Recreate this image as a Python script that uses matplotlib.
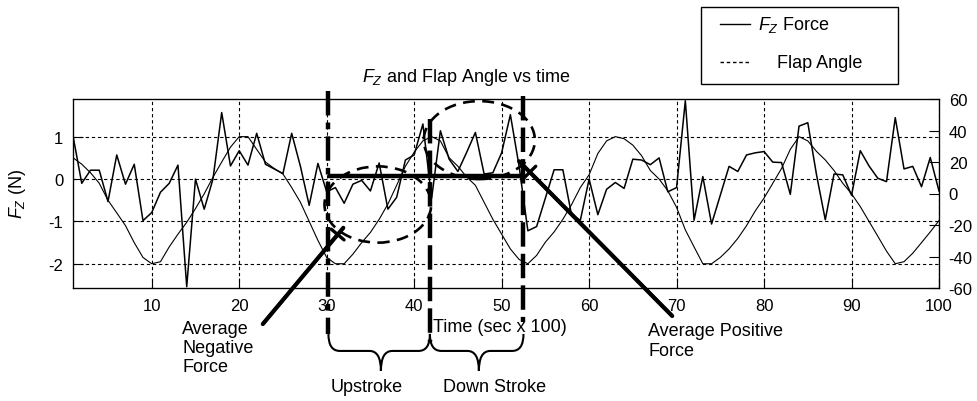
import numpy as np
import matplotlib
matplotlib.use("Agg")
import matplotlib.pyplot as plt
from matplotlib.patches import Ellipse, Rectangle, PathPatch
from matplotlib.path import Path
from matplotlib.lines import Line2D

# data
time = np.arange(1, 101)
fz_force = [1.02, -0.1, 0.21, 0.21, -0.53, 0.57, -0.12, 0.35, -0.98, -0.79,
            -0.31, -0.1, 0.33, -2.54, 0.0, -0.71, 0.0, 1.57, 0.31, 0.67,
            0.33, 1.08, 0.35, 0.24, 0.13, 1.08, 0.3, -0.62, 0.37, -0.3,
            -0.2, -0.57, -0.12, -0.03, -0.28, 0.38, -0.71, -0.43, 0.45, 0.57,
            1.3, -0.45, 1.14, 0.47, 0.18, 0.63, 1.1, 0.12, 0.15, 0.62,
            1.52, 0.3, -1.22, -1.12, -0.45, 0.22, 0.22, -0.85, -0.97, 0.0,
            -0.84, -0.24, -0.08, -0.22, 0.47, 0.45, 0.34, 0.5, -0.3, -0.2,
            1.85, -0.97, 0.06, -1.06, -0.38, 0.3, 0.18, 0.57, 0.62, 0.65,
            0.4, 0.39, -0.36, 1.25, 1.33, 0.1, -0.96, 0.12, 0.1, -0.38,
            0.67, 0.31, 0.02, -0.06, 1.45, 0.24, 0.3, -0.18, 0.51, -0.28]
flap_angle = [22.7, 18.6, 13.2, 6.5, -4.3, -12.3, -20.4, -31.2, -40.6, -44.6,
              -43.3, -33.9, -25.8, -18.3, -9.6, -0.2, 10.3, 20.0, 29.4, 36.1,
              36.1, 28.0, 20.0, 15.9, 12.4, 3.8, -5.6, -17.7, -29.8, -40.6,
              -44.6, -44.6, -38.5, -31.2, -24.7, -16.4, -6.7, 5.2, 17.3, 26.2,
              33.4, 36.1, 33.4, 22.7, 17.3, 10.5, 5.2, -5.6, -16.4, -25.8,
              -35.2, -41.9, -44.6, -39.3, -30.9, -24.4, -16.4, -7.0, 3.8, 11.9,
              25.4, 33.4, 36.1, 34.8, 30.7, 24.0, 14.6, 9.2, 1.7, -8.8,
              -23.1, -33.9, -44.6, -44.6, -40.6, -35.2, -28.5, -20.4, -11.0, -2.9,
              6.5, 15.9, 28.0, 36.1, 33.4, 26.7, 21.3, 14.6, 6.5, -0.2,
              -8.3, -17.7, -27.1, -36.6, -44.6, -43.3, -37.9, -31.2, -24.4, -17.2]
x_ticks = [10, 20, 30, 40, 50, 60, 70, 80, 90, 100]
fz_ticks = [-2, -1, 0, 1]
angle_ticks = [-60, -40, -20, 0, 20, 40, 60]
stroke_bounds = [30.2, 41.8, 52.5]
avg_force = 0.07

plt.rcParams['font.family'] = ['Liberation Sans', 'DejaVu Sans']
plt.rcParams['mathtext.fontset'] = 'custom'
plt.rcParams['mathtext.it'] = 'Liberation Sans:italic'
plt.rcParams['mathtext.rm'] = 'Liberation Sans'
plt.rcParams['axes.unicode_minus'] = False

W, H = 977, 402
def fx(px):
    return px / W
def fy(py):
    return 1 - py / H

fig = plt.figure(figsize=(9.77, 4.02), dpi=100)
ax = fig.add_axes([fx(73), fy(289), fx(939) - fx(73), fy(100) - fy(289)])
ax.plot(time, fz_force, color='black', lw=1.1)
ax.set_xlim(1, 100)
ax.set_ylim(-2.57, 1.89)
ax.set_xticks(x_ticks)
ax.set_yticks(fz_ticks)
ax.set_yticklabels([str(v) for v in fz_ticks])
ax.grid(True, color='black', lw=0.8, linestyle=(0, (3, 2.5)))
ax.tick_params(direction='in', length=7, labelsize=12, pad=7)
for s in ax.spines.values():
    s.set_linewidth(0.9)

ax2 = ax.twinx()
ax2.plot(time, flap_angle, color='black', lw=0.8)
ax2.set_ylim(-60, 60)
ax2.set_yticks(angle_ticks)
ax2.set_yticklabels([str(v) for v in angle_ticks])
ax2.tick_params(direction='in', length=7, labelsize=12, pad=7)

# annotations (drawn in the force axis coordinates)
xt = ax.get_xaxis_transform()
ax2.plot([stroke_bounds[0]] * 2, [1.042, -0.243], transform=xt, clip_on=False,
         color='black', lw=3.2, linestyle=(0, (5.5, 1.6, 1.5, 1.6)))
ax2.plot([stroke_bounds[1]] * 2, [0.894, -0.286], transform=xt, clip_on=False,
         color='black', lw=3.2, linestyle=(0, (5.5, 1.6)))
ax2.plot([stroke_bounds[2]] * 2, [1.016, -0.18], transform=xt, clip_on=False,
         color='black', lw=3.2, linestyle=(0, (5.5, 1.6)))
ax2.plot([stroke_bounds[0], stroke_bounds[2]], [avg_force, avg_force],
         transform=ax.transData, color='black', lw=3.2, solid_capstyle='butt')

for cx, cy, w, h in [(35.85, -0.6, 12.2, 1.8), (47.45, 0.92, 12.7, 1.84)]:
    ax2.add_patch(Ellipse((cx, cy), w, h, transform=ax.transData, fill=False,
                          ec='black', lw=1.9, linestyle=(0, (4.5, 2.8)), clip_on=False))

# pointer lines with a cross bar just before the tip
for tail, tip in [((22.7, -3.42), (31.9, -1.15)), ((69.5, -3.23), (52.0, 0.42))]:
    ax2.annotate('', xy=tip, xycoords=ax.transData, xytext=tail, textcoords=ax.transData,
                 arrowprops=dict(arrowstyle='-', lw=3.0, color='black', shrinkA=0, shrinkB=0),
                 annotation_clip=False)
    bar = (tail[0] + 0.93 * (tip[0] - tail[0]), tail[1] + 0.93 * (tip[1] - tail[1]))
    ax2.annotate('', xy=bar, xycoords=ax.transData, xytext=tail, textcoords=ax.transData,
                 arrowprops=dict(arrowstyle='-[, widthB=0.5, lengthB=0.0', lw=2.4,
                                 color='black', shrinkA=0, shrinkB=0, mutation_scale=12),
                 annotation_clip=False)

# curly braces under the strokes
def brace(x0, x1, xc, ytop=-0.243, ymid=-0.333, ybot=-0.439, dx=1.3):
    verts = [(x0, ytop), (x0, ymid), (x0 + dx, ymid),
             (xc - dx, ymid), (xc, ymid), (xc, ybot),
             (xc, ymid), (xc + dx, ymid),
             (x1 - dx, ymid), (x1, ymid), (x1, ytop)]
    codes = [Path.MOVETO, Path.CURVE3, Path.CURVE3,
             Path.LINETO, Path.CURVE3, Path.CURVE3,
             Path.CURVE3, Path.CURVE3,
             Path.LINETO, Path.CURVE3, Path.CURVE3]
    return PathPatch(Path(verts, codes), transform=xt, fill=False,
                     ec='black', lw=1.5, clip_on=False)

ax2.add_patch(brace(stroke_bounds[0], stroke_bounds[1], 36.2))
ax2.add_patch(brace(stroke_bounds[1], stroke_bounds[2], 47.4))

# texts
fig.text(fx(466), fy(77), '$F_Z$ and Flap Angle vs time', ha='center', va='center', fontsize=13)
fig.text(fx(17), fy(194), '$F_Z$ (N)', rotation=90, ha='center', va='center', fontsize=13)
fig.text(fx(433), fy(328), 'Time (sec x 100)', ha='left', va='center', fontsize=13)
fig.text(fx(182), fy(321), 'Average\nNegative\nForce', ha='left', va='top',
         fontsize=13, linespacing=1.15)
fig.text(fx(648), fy(323), 'Average Positive\nForce', ha='left', va='top',
         fontsize=13, linespacing=1.25)
fig.text(fx(367), fy(388), 'Upstroke', ha='center', va='center', fontsize=13)
fig.text(fx(495), fy(388), 'Down Stroke', ha='center', va='center', fontsize=13)

# hand-drawn legend box
fig.patches.append(Rectangle((fx(701), fy(85)), fx(898) - fx(701), fy(8) - fy(85),
                             transform=fig.transFigure, fill=False, ec='black', lw=1.0))
fig.lines.append(Line2D([fx(720), fx(750)], [fy(25), fy(25)], transform=fig.transFigure,
                        color='black', lw=1.0))
fig.lines.append(Line2D([fx(720), fx(750)], [fy(63), fy(63)], transform=fig.transFigure,
                        color='black', lw=1.0, linestyle=(0, (2.5, 2))))
fig.text(fx(758), fy(25), '$F_Z$ Force', ha='left', va='center', fontsize=13)
fig.text(fx(777), fy(63), 'Flap Angle', ha='left', va='center', fontsize=13)

fig.savefig('out.png', dpi=100)
